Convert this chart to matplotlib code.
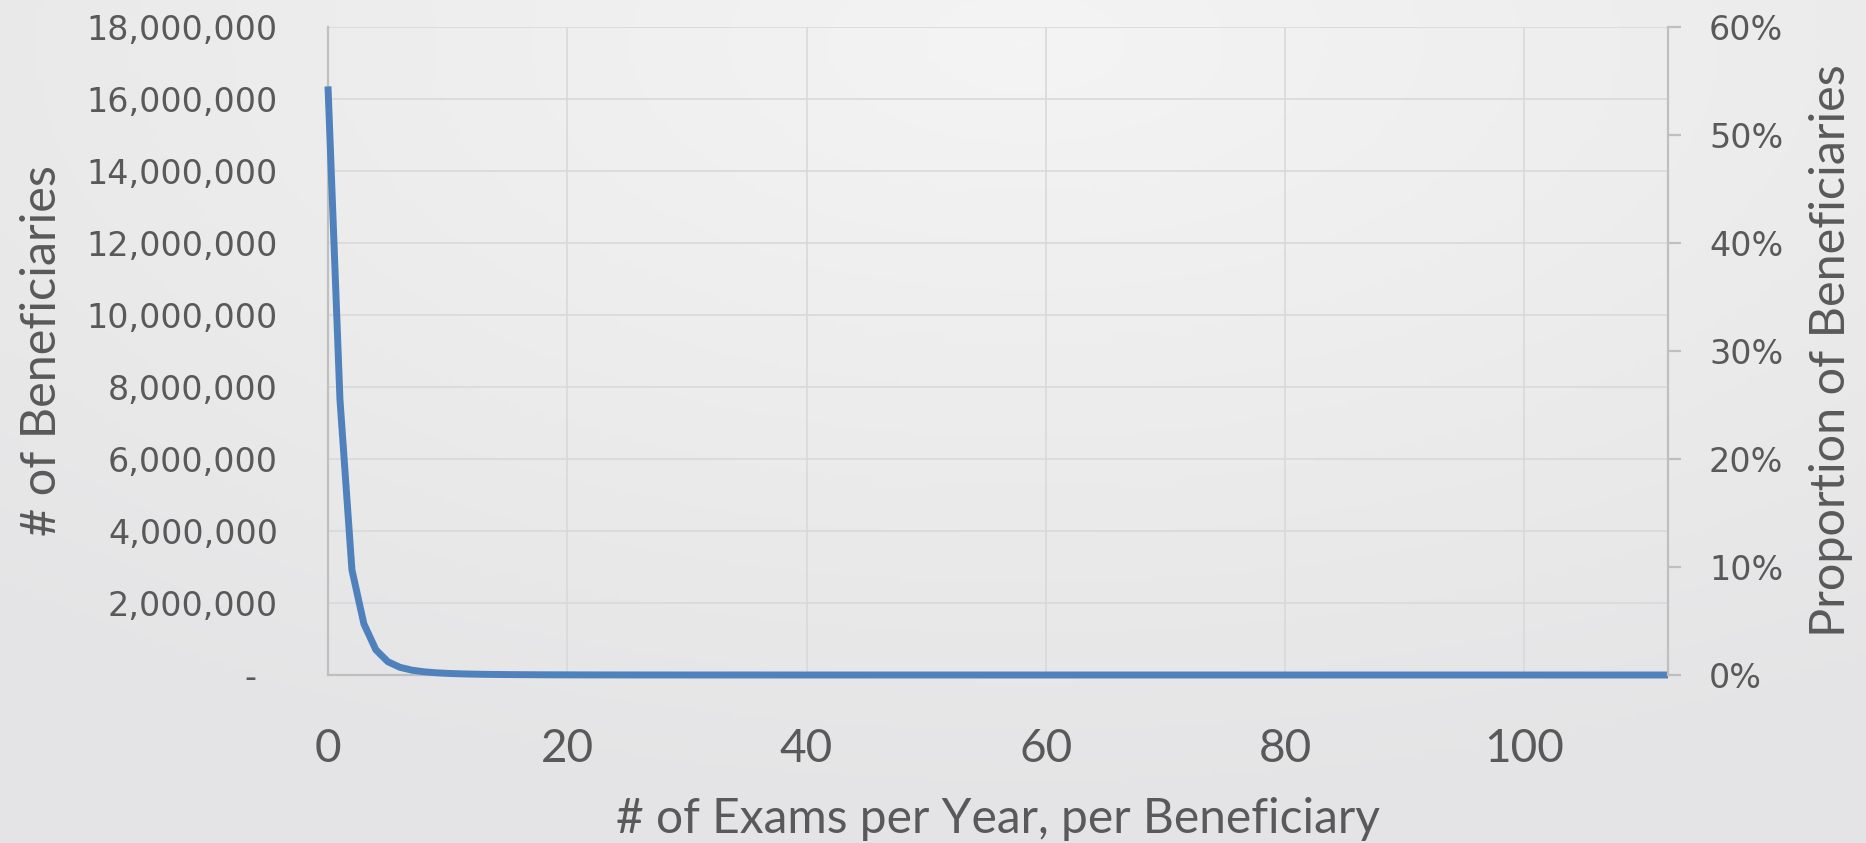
import numpy as np
import matplotlib
matplotlib.use("Agg")
import matplotlib.pyplot as plt
from matplotlib.ticker import FuncFormatter
from matplotlib.colors import LinearSegmentedColormap

# Beneficiaries by number of exams per year (0 .. 112 exams)
beneficiaries = [
    16350000, 7650000, 2920000, 1420000, 700000, 370000, 215000, 135000, 90000, 62000,
    45000, 33000, 25000, 19000, 15000, 12000, 9500, 7600, 6100, 5000,
    4100,
    3400, 2800, 2300, 1900, 1600, 1350, 1150, 980, 840, 720,
    620, 540, 470, 410, 360, 315, 280, 250, 220, 195,
    175, 155, 140, 125, 112, 100, 90, 82, 74, 67,
    61, 55, 50, 46, 42, 38, 35, 32, 29, 27,
    25, 23, 21, 19, 18, 16, 15, 14, 13, 12,
    11, 10, 10, 9, 8, 8, 7, 7, 6, 6,
    5, 5, 5, 4, 4, 4, 4, 3, 3, 3,
    3, 3, 2, 2, 2, 2, 2, 2, 2, 2,
    1, 1, 1, 1, 1, 1, 1, 1, 1, 1,
    1, 1,
]
exams = list(range(len(beneficiaries)))

left_ticks = [0, 2e6, 4e6, 6e6, 8e6, 10e6, 12e6, 14e6, 16e6, 18e6]
right_ticks = [0.0, 0.1, 0.2, 0.3, 0.4, 0.5, 0.6]
x_ticks = [0, 20, 40, 60, 80, 100]

x_title = "# of Exams per Year, per Beneficiary"
y_title = "# of Beneficiaries"
y2_title = "Proportion of Beneficiaries"

TEXT = "#595959"
GRID = "#d9d9d9"
SPINE = "#bfbfbf"
LINE = "#4f81bd"
TITLE_FONT = ["Lato", "DejaVu Sans"]

W, H = 1866, 843
fig = plt.figure(figsize=(W / 100, H / 100), dpi=100)

# soft grey backdrop, lighter near the top centre
bg = fig.add_axes([0, 0, 1, 1], zorder=-10)
yy, xx = np.mgrid[0:1:200j, 0:1:400j]
r = np.sqrt(((xx - 0.55) / 1.0) ** 2 + ((yy - 0.05) / 1.1) ** 2)
cmap = LinearSegmentedColormap.from_list("bg", ["#f4f4f4", "#ececec", "#e4e4e6"])
bg.imshow(r, cmap=cmap, aspect="auto", extent=[0, 1, 1, 0], vmin=0, vmax=0.85)
bg.axis("off")

L, R, B, T = 328 / W, 1668 / W, 1 - 675 / H, 1 - 27 / H
ax = fig.add_axes([L, B, R - L, T - B])
ax.patch.set_alpha(0)

ax.plot(exams, beneficiaries, color=LINE, lw=5.0, solid_joinstyle="round",
        solid_capstyle="butt", zorder=3, clip_on=False)

ax.set_xlim(0, 112)
ax.set_ylim(0, 18e6)
ax.set_yticks(left_ticks)
ax.set_xticks(x_ticks)


def fmt_count(v, _):
    return "-  " if v == 0 else f"{v:,.0f}"


ax.yaxis.set_major_formatter(FuncFormatter(fmt_count))
ax.grid(True, color=GRID, lw=1.2, zorder=0)
ax.set_axisbelow(True)

for s in ["top", "right"]:
    ax.spines[s].set_visible(False)
for s in ["left", "bottom"]:
    ax.spines[s].set_color(SPINE)
    ax.spines[s].set_linewidth(1.6)

ax.tick_params(axis="y", length=0, pad=36, labelsize=24, labelcolor=TEXT)
ax.tick_params(axis="x", length=0, pad=38.5, labelcolor=TEXT)
for lab in ax.get_xticklabels():
    lab.set_fontfamily(TITLE_FONT)
    lab.set_fontsize(33)

ax2 = ax.twinx()
ax2.patch.set_alpha(0)
ax2.set_ylim(0, 0.6)
ax2.set_yticks(right_ticks)
ax2.yaxis.set_major_formatter(FuncFormatter(lambda v, _: f"{v * 100:.0f}%"))
for s in ["top", "left", "bottom"]:
    ax2.spines[s].set_visible(False)
ax2.spines["right"].set_color(SPINE)
ax2.spines["right"].set_linewidth(1.6)
ax2.tick_params(axis="y", direction="out", length=9.5, width=1.6, color=SPINE,
                pad=20, labelsize=24, labelcolor=TEXT)

ax.set_xlabel(x_title, fontsize=34.5, color=TEXT, family=TITLE_FONT)
ax.xaxis.set_label_coords(0.5, -0.2215)
ax.xaxis.label.set_va("center")

ax.set_ylabel(y_title, fontsize=35, color=TEXT, family=TITLE_FONT)
ax.yaxis.set_label_coords(-0.2135, 0.5)
ax.yaxis.label.set_va("center")

ax2.set_ylabel(y2_title, fontsize=35, color=TEXT, family=TITLE_FONT, rotation=90)
ax2.yaxis.set_label_coords(1.1215, 0.5)
ax2.yaxis.label.set_va("center")

fig.savefig("out.png", dpi=100)
